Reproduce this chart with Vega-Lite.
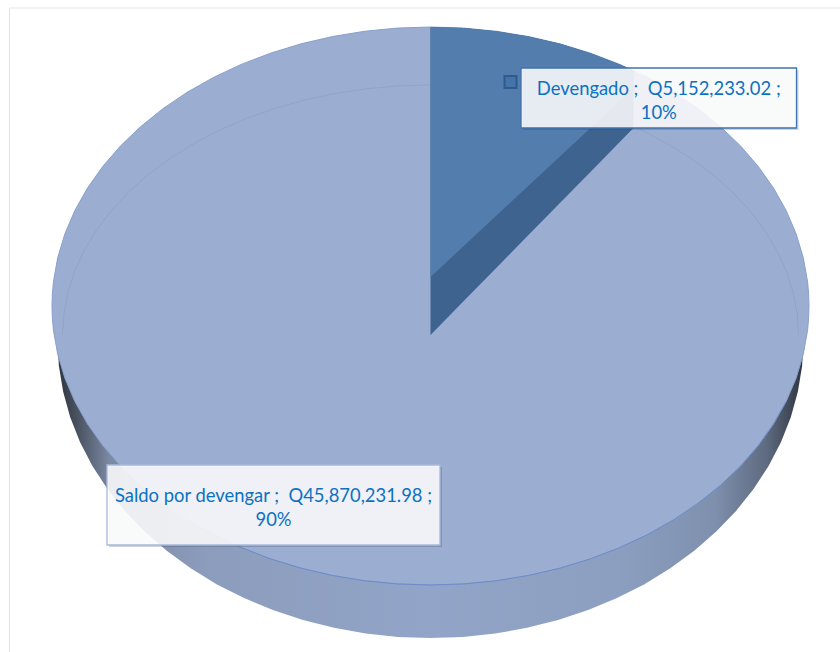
{"$schema":"https://vega.github.io/schema/vega-lite/v6.json","width":840,"height":652,"padding":0,"autosize":{"type":"none"},"background":"white","config":{"view":{"stroke":null}},
"datasets":{
"disc":[{"u":-1,"top":0,"bot":0},{"u":-0.999,"top":0.0436,"bot":-0.0436},{"u":-0.9962,"top":0.0872,"bot":-0.0872},{"u":-0.9848,"top":0.1736,"bot":-0.1736},{"u":-0.9659,"top":0.2588,"bot":-0.2588},{"u":-0.9397,"top":0.342,"bot":-0.342},{"u":-0.9063,"top":0.4226,"bot":-0.4226},{"u":-0.866,"top":0.5,"bot":-0.5},{"u":-0.8192,"top":0.5736,"bot":-0.5736},{"u":-0.766,"top":0.6428,"bot":-0.6428},{"u":-0.7071,"top":0.7071,"bot":-0.7071},{"u":-0.6428,"top":0.766,"bot":-0.766},{"u":-0.5736,"top":0.8192,"bot":-0.8192},{"u":-0.5,"top":0.866,"bot":-0.866},{"u":-0.4226,"top":0.9063,"bot":-0.9063},{"u":-0.342,"top":0.9397,"bot":-0.9397},{"u":-0.2588,"top":0.9659,"bot":-0.9659},{"u":-0.1736,"top":0.9848,"bot":-0.9848},{"u":-0.0872,"top":0.9962,"bot":-0.9962},{"u":0,"top":1,"bot":-1},{"u":0.0872,"top":0.9962,"bot":-0.9962},{"u":0.1736,"top":0.9848,"bot":-0.9848},{"u":0.2588,"top":0.9659,"bot":-0.9659},{"u":0.342,"top":0.9397,"bot":-0.9397},{"u":0.4226,"top":0.9063,"bot":-0.9063},{"u":0.5,"top":0.866,"bot":-0.866},{"u":0.5736,"top":0.8192,"bot":-0.8192},{"u":0.6428,"top":0.766,"bot":-0.766},{"u":0.7071,"top":0.7071,"bot":-0.7071},{"u":0.766,"top":0.6428,"bot":-0.6428},{"u":0.8192,"top":0.5736,"bot":-0.5736},{"u":0.866,"top":0.5,"bot":-0.5},{"u":0.9063,"top":0.4226,"bot":-0.4226},{"u":0.9397,"top":0.342,"bot":-0.342},{"u":0.9659,"top":0.2588,"bot":-0.2588},{"u":0.9848,"top":0.1736,"bot":-0.1736},{"u":0.9962,"top":0.0872,"bot":-0.0872},{"u":0.999,"top":0.0436,"bot":-0.0436},{"u":1,"top":0,"bot":0}],
"side":[{"u":-0.9855,"low":-0.1219,"high":-0.1219},{"u":-0.9818,"low":-0.215,"high":-0.1219},{"u":-0.9705,"low":-0.3073,"high":-0.1219},{"u":-0.9519,"low":-0.3983,"high":-0.1219},{"u":-0.9261,"low":-0.4872,"high":-0.1219},{"u":-0.8932,"low":-0.5733,"high":-0.1219},{"u":-0.8535,"low":-0.656,"high":-0.1219},{"u":-0.8073,"low":-0.7346,"high":-0.1219},{"u":-0.7549,"low":-0.8085,"high":-0.1219},{"u":-0.6969,"low":-0.8772,"high":-0.1219},{"u":-0.6335,"low":-0.9401,"high":-0.1219},{"u":-0.5653,"low":-0.9969,"high":-0.1219},{"u":-0.4928,"low":-1.0469,"high":-0.1219},{"u":-0.4165,"low":-1.0899,"high":-0.1219},{"u":-0.337,"low":-1.1256,"high":-0.1219},{"u":-0.255,"low":-1.1536,"high":-0.1219},{"u":-0.1711,"low":-1.1738,"high":-0.1219},{"u":-0.0859,"low":-1.186,"high":-0.1219},{"u":0,"low":-1.19,"high":-0.1219},{"u":0.0859,"low":-1.186,"high":-0.1219},{"u":0.1711,"low":-1.1738,"high":-0.1219},{"u":0.255,"low":-1.1536,"high":-0.1219},{"u":0.337,"low":-1.1256,"high":-0.1219},{"u":0.4165,"low":-1.0899,"high":-0.1219},{"u":0.4928,"low":-1.0469,"high":-0.1219},{"u":0.5653,"low":-0.9969,"high":-0.1219},{"u":0.6335,"low":-0.9401,"high":-0.1219},{"u":0.6969,"low":-0.8772,"high":-0.1219},{"u":0.7549,"low":-0.8085,"high":-0.1219},{"u":0.8073,"low":-0.7346,"high":-0.1219},{"u":0.8535,"low":-0.656,"high":-0.1219},{"u":0.8932,"low":-0.5733,"high":-0.1219},{"u":0.9261,"low":-0.4872,"high":-0.1219},{"u":0.9519,"low":-0.3983,"high":-0.1219},{"u":0.9705,"low":-0.3073,"high":-0.1219},{"u":0.9818,"low":-0.215,"high":-0.1219},{"u":0.9855,"low":-0.1219,"high":-0.1219}],
"wedge":[{"u":0,"top":1,"band":-0.1039,"face":0.1039},{"u":0.0872,"top":0.9962,"band":0.0167,"face":0.214},{"u":0.1736,"top":0.9848,"band":0.1363,"face":0.3232},{"u":0.2588,"top":0.9659,"band":0.2541,"face":0.4308},{"u":0.342,"top":0.9397,"band":0.3692,"face":0.5358},{"u":0.4226,"top":0.9063,"band":0.4807,"face":0.6376},{"u":0.5,"top":0.866,"band":0.5878,"face":0.7354},{"u":0.5363,"top":0.844,"band":0.638,"face":0.7813}],
"inner":[{"u":-0.9722,"v":-0.1039},{"u":-0.9685,"v":-0.0258},{"u":-0.9574,"v":0.0517},{"u":-0.9391,"v":0.128},{"u":-0.9136,"v":0.2026},{"u":-0.8811,"v":0.2748},{"u":-0.8419,"v":0.3442},{"u":-0.7964,"v":0.4101},{"u":-0.7447,"v":0.4721},{"u":-0.6874,"v":0.5297},{"u":-0.6249,"v":0.5825},{"u":-0.5577,"v":0.6302},{"u":-0.4861,"v":0.6722},{"u":-0.4109,"v":0.7082},{"u":-0.3325,"v":0.7382},{"u":-0.2516,"v":0.7617},{"u":-0.1688,"v":0.7786},{"u":-0.0848,"v":0.7888},{"u":0,"v":0.7922},{"u":0.0848,"v":0.7888},{"u":0.1688,"v":0.7786},{"u":0.2516,"v":0.7617},{"u":0.3325,"v":0.7382},{"u":0.4109,"v":0.7082},{"u":0.4861,"v":0.6722},{"u":0.5577,"v":0.6302},{"u":0.6249,"v":0.5825},{"u":0.6874,"v":0.5297},{"u":0.7447,"v":0.4721},{"u":0.7964,"v":0.4101},{"u":0.8419,"v":0.3442},{"u":0.8811,"v":0.2748},{"u":0.9136,"v":0.2026},{"u":0.9391,"v":0.128},{"u":0.9574,"v":0.0517},{"u":0.9685,"v":-0.0258},{"u":0.9722,"v":-0.1039}],
"labels":[{"category":"Devengado","amount":5152233.02,"percent":10,"label":"Devengado ;\u00a0 Q5,152,233.02 ;\n10%","u1":0.2391,"u2":0.967,"v1":0.853,"v2":0.638,"uc":0.6031,"vc":0.7795},{"category":"Saldo por devengar","amount":45870231.98,"percent":90,"label":"Saldo por devengar ;\u00a0 Q45,870,231.98 ;\n90%","u1":-0.8547,"u2":0.0251,"v1":-0.5699,"v2":-0.8566,"uc":-0.4148,"vc":-0.6793}]
},
"layer":[
{"data":{"values":[{"u":-1.1123,"v1":1.0681,"v2":-1.2401}]},"mark":{"type":"rule","color":"#e2e2e2","strokeWidth":1},"encoding":{"x":{"field":"u","type":"quantitative","scale":{"domain":[-1.1374,1.0819],"nice":false,"zero":false},"axis":null},"y":{"field":"v1","type":"quantitative","scale":{"domain":[-1.2401,1.0968],"nice":false,"zero":false},"axis":null},"y2":{"field":"v2"}}},
{"data":{"values":[{"v":1.0681,"u1":-1.1123,"u2":1.0819}]},"mark":{"type":"rule","color":"#eeeeee","strokeWidth":1.5},"encoding":{"y":{"field":"v","type":"quantitative","axis":null},"x":{"field":"u1","type":"quantitative","axis":null},"x2":{"field":"u2"}}},
{"data":{"name":"side"},"mark":{"type":"area","color":{"gradient":"linear","x1":0,"x2":1,"y1":0,"y2":0,"stops":[{"offset":0,"color":"#2f3540"},{"offset":0.03,"color":"#4c5666"},{"offset":0.07,"color":"#7c89a3"},{"offset":0.2,"color":"#8c9cbc"},{"offset":0.5,"color":"#92a5c8"},{"offset":0.75,"color":"#8c9fc0"},{"offset":0.88,"color":"#7f90ae"},{"offset":0.95,"color":"#5e6b80"},{"offset":1,"color":"#2f3540"}]}},"encoding":{"x":{"field":"u","type":"quantitative","axis":null},"y":{"field":"low","type":"quantitative","axis":null},"y2":{"field":"high"}}},
{"data":{"name":"disc"},"mark":{"type":"area","fill":"#9baed1","stroke":"#88a0cc","strokeWidth":1},"encoding":{"x":{"field":"u","type":"quantitative","axis":null},"y":{"field":"top","type":"quantitative","axis":null},"y2":{"field":"bot"}}},
{"data":{"name":"disc"},"transform":[{"filter":"datum.u > -0.7 && datum.u < 0.95"}],"mark":{"type":"line","color":"#6c8cc8","strokeWidth":1},"encoding":{"x":{"field":"u","type":"quantitative","axis":null},"y":{"field":"bot","type":"quantitative","axis":null}}},
{"data":{"name":"inner"},"mark":{"type":"line","color":"#8497bd","strokeWidth":1,"opacity":0.45},"encoding":{"x":{"field":"u","type":"quantitative","axis":null},"y":{"field":"v","type":"quantitative","axis":null}}},
{"data":{"name":"wedge"},"mark":{"type":"area","color":"#3f638f"},"encoding":{"x":{"field":"u","type":"quantitative","axis":null},"y":{"field":"top","type":"quantitative","axis":null},"y2":{"field":"band"}}},
{"data":{"name":"wedge"},"mark":{"type":"area","color":"#527dad"},"encoding":{"x":{"field":"u","type":"quantitative","axis":null},"y":{"field":"top","type":"quantitative","axis":null},"y2":{"field":"face"}}},
{"data":{"values":[{"category":"Devengado","u":0.2114,"v":0.8029}]},"mark":{"type":"point","shape":"square","filled":true,"size":144,"fill":"#4574aa","stroke":"#2f5a8c","strokeWidth":2,"opacity":1},"encoding":{"x":{"field":"u","type":"quantitative","axis":null},"y":{"field":"v","type":"quantitative","axis":null}}},
{"data":{"name":"labels"},"mark":{"type":"rect","color":"#2a3550","opacity":0.22,"xOffset":2,"x2Offset":2,"yOffset":2,"y2Offset":2},"encoding":{"x":{"field":"u1","type":"quantitative","axis":null},"x2":{"field":"u2"},"y":{"field":"v1","type":"quantitative","axis":null},"y2":{"field":"v2"}}},
{"data":{"name":"labels"},"mark":{"type":"rect","fill":"white","fillOpacity":0.87,"strokeWidth":1.3},"encoding":{"x":{"field":"u1","type":"quantitative","axis":null},"x2":{"field":"u2"},"y":{"field":"v1","type":"quantitative","axis":null},"y2":{"field":"v2"},"stroke":{"field":"category","type":"nominal","legend":null,"scale":{"domain":["Devengado","Saldo por devengar"],"range":["#3f72ae","#a8b9da"]}}}},
{"data":{"name":"labels"},"mark":{"type":"text","font":"Lato","fontSize":18.4,"color":"#0b72c2","align":"center","baseline":"middle","lineBreak":"\n","lineHeight":24},"encoding":{"x":{"field":"uc","type":"quantitative","axis":null},"y":{"field":"vc","type":"quantitative","axis":null},"text":{"field":"label","type":"nominal"}}}
]}
